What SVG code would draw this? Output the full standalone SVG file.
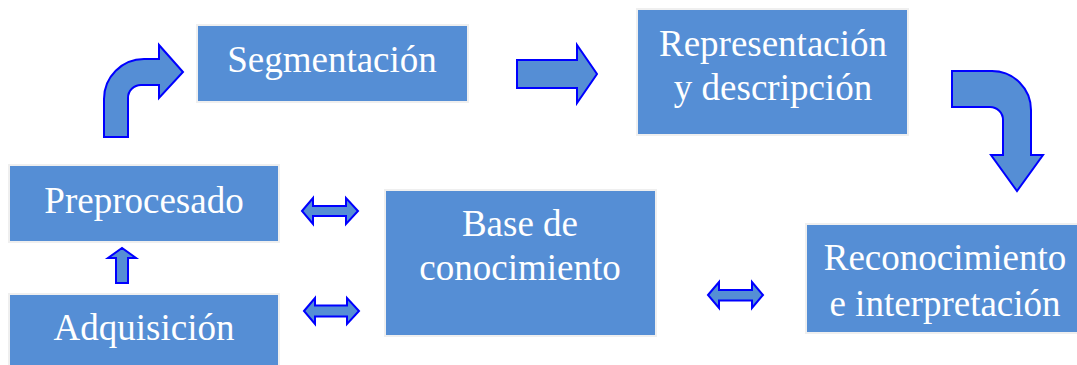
<svg xmlns="http://www.w3.org/2000/svg" width="1077" height="365" viewBox="0 0 1077 365">
<style>
.box{fill:#558ED5;stroke:#EFEFEF;stroke-width:2}
.lbl{font-family:"Liberation Serif","Times New Roman",serif;font-size:37px;fill:#FFFFFF;text-anchor:middle}
.arr{fill:#558ED5;stroke:#0000FF;stroke-width:2;stroke-linejoin:miter}
</style>
<rect width="1077" height="365" fill="#FFFFFF"/>
<g id="segmentacion">
<rect class="box" x="197" y="25" width="271" height="77"/>
<text class="lbl" x="332" y="72">Segmentación</text>
</g>
<g id="representacion">
<rect class="box" x="637" y="9" width="271" height="126"/>
<text class="lbl" x="773" y="56">Representación</text>
<text class="lbl" x="773" y="100">y descripción</text>
</g>
<g id="preprocesado">
<rect class="box" x="9" y="165" width="270" height="77"/>
<text class="lbl" x="144" y="213">Preprocesado</text>
</g>
<g id="adquisicion">
<rect class="box" x="9" y="294" width="270" height="75"/>
<text class="lbl" x="144" y="340">Adquisición</text>
</g>
<g id="base">
<rect class="box" x="385" y="190" width="271" height="146"/>
<text class="lbl" x="520" y="236">Base de</text>
<text class="lbl" x="520" y="280">conocimiento</text>
</g>
<g id="reconocimiento">
<rect class="box" x="806" y="224" width="272" height="109"/>
<text class="lbl" x="945" y="270">Reconocimiento</text>
<text class="lbl" x="945" y="316">e interpretación</text>
</g>
<g id="connectors">
<path class="arr" d="M104,137 L104,99 A40,40 0 0 1 144,59 L159,59 L159,45 L183,72 L159,98 L159,85 L141,85 A13,13 0 0 0 128,98 L128,137 Z"/>
<path class="arr" d="M517,60 L577,60 L577,45 L597,74 L577,103 L577,88 L517,88 Z"/>
<path class="arr" d="M952,71 L992,71 A39,39 0 0 1 1031,110 L1031,155 L1043,155 L1017,191 L991,155 L1003,155 L1003,120 A13,13 0 0 0 990,107 L952,107 Z"/>
<path class="arr" d="M116,283 L116,258 L108,258 L122,248 L136,258 L128,258 L128,283 Z"/>
<path class="arr" d="M302,211 L313,198 L313,206 L346,206 L346,198 L358,211 L346,224 L346,216 L313,216 L313,224 Z"/>
<path class="arr" d="M304,311 L315,298 L315,305.5 L347,305.5 L347,298 L359,311 L347,324 L347,316.5 L315,316.5 L315,324 Z"/>
<path class="arr" d="M708,295 L719,282 L719,290 L752,290 L752,282 L763,295 L752,308 L752,300.5 L719,300.5 L719,308 Z"/>
</g>
</svg>
